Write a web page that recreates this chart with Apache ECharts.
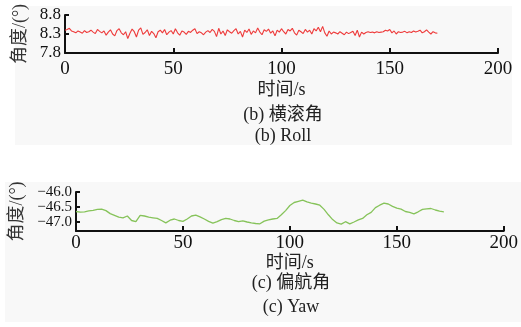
<!DOCTYPE html>
<html lang="en">
<head>
    <meta charset="UTF-8">
    <title>横滚角 / 偏航角</title>
    <script src="https://cdn.jsdelivr.net/npm/echarts@6/dist/echarts.min.js"></script>
</head>
<style>
    html, body { margin: 0; padding: 0; background: #fff; }
    #main { width: 521px; height: 327px; }
</style>
<body>
<div id="main"></div>
</body>
<script>
    // 横滚角 数据，每秒一个点
    var rollValues = [
        8.40, 8.42, 8.45, 8.38, 8.36, 8.33, 8.38, 8.35, 8.32, 8.39,
        8.34, 8.36, 8.40, 8.35, 8.31, 8.42, 8.37, 8.33, 8.38, 8.27,
        8.35, 8.41, 8.30, 8.25, 8.39, 8.44, 8.33, 8.28, 8.36, 8.18,
        8.32, 8.43, 8.36, 8.22, 8.40, 8.46, 8.29, 8.34, 8.41, 8.26,
        8.37, 8.31, 8.20, 8.36, 8.40, 8.33, 8.42, 8.28, 8.35, 8.39,
        8.30, 8.44, 8.33, 8.27, 8.38, 8.35, 8.29, 8.37, 8.34, 8.40,
        8.44, 8.31, 8.36, 8.33, 8.28, 8.35, 8.39, 8.34, 8.42, 8.37,
        8.23, 8.45, 8.30, 8.38, 8.26, 8.41, 8.36, 8.32, 8.39, 8.44,
        8.30, 8.37, 8.22, 8.40, 8.34, 8.43, 8.29, 8.38, 8.33, 8.46,
        8.35, 8.28, 8.41, 8.37, 8.43, 8.32, 8.38, 8.25, 8.40, 8.35,
        8.44, 8.36, 8.30, 8.42, 8.38, 8.45, 8.33, 8.27, 8.40, 8.36,
        8.31, 8.42, 8.35, 8.40, 8.30, 8.44, 8.38, 8.48, 8.36, 8.50,
        8.33, 8.24, 8.38, 8.30, 8.35, 8.33, 8.30, 8.36, 8.32, 8.28,
        8.35, 8.31, 8.34, 8.37, 8.26, 8.40, 8.22, 8.35, 8.30, 8.34,
        8.36, 8.34, 8.35, 8.33, 8.36, 8.34, 8.35, 8.36, 8.40, 8.38,
        8.42, 8.33, 8.38, 8.30, 8.36, 8.34, 8.35, 8.37, 8.33, 8.36,
        8.34, 8.38, 8.35, 8.37, 8.40, 8.33, 8.36, 8.41, 8.35, 8.30,
        8.36, 8.33, 8.32
    ];
    var rollStep = 1;

    // 偏航角 数据，每2秒一个点
    var yawValues = [
        -46.65, -46.67, -46.66, -46.63, -46.61, -46.58, -46.57, -46.62, -46.72, -46.78,
        -46.84, -46.86, -46.80, -46.95, -46.99, -46.78, -46.80, -46.84, -46.86, -46.88,
        -46.95, -47.03, -46.94, -46.90, -46.95, -46.98, -46.90, -46.80, -46.77, -46.83,
        -46.90, -46.98, -47.04, -46.99, -46.92, -46.88, -46.90, -46.95, -46.99, -46.96,
        -47.00, -47.03, -47.05, -47.06, -46.97, -46.93, -46.90, -46.88, -46.76, -46.62,
        -46.45, -46.35, -46.31, -46.27, -46.33, -46.37, -46.40, -46.44, -46.58, -46.76,
        -46.92, -47.03, -47.07, -46.99, -47.06, -47.00, -46.93, -46.88, -46.76, -46.68,
        -46.52, -46.44, -46.37, -46.40, -46.48, -46.54, -46.57, -46.65, -46.68, -46.73,
        -46.66, -46.58, -46.56, -46.55, -46.60, -46.64, -46.66
    ];
    var yawStep = 2;

    var xTicks = [0, 50, 100, 150, 200];
    var rollTicks = [7.8, 8.3, 8.8];
    var yawTicks = [-47.0, -46.5, -46.0];

    var captions = ['(b) 横滚角', '(b) Roll', '(c) 偏航角', '(c) Yaw'];

    function toPairs(vals, step) {
        var out = [];
        for (var i = 0; i < vals.length; i++) {
            out[out.length] = [i * step, vals[i]];
        }
        return out;
    }

    var serif = '"Liberation Serif", "Noto Sans CJK SC", serif';
    var axisColor = '#111';

    function xAxisOf(idx, gap, nameGap) {
        return {
            type: 'value', gridIndex: idx, min: 0, max: 200, interval: 50,
            name: '时间/s', nameLocation: 'middle', nameGap: nameGap,
            nameTextStyle: { fontFamily: serif, fontSize: 18, color: '#222' },
            axisLine: { show: true, onZero: false, lineStyle: { color: axisColor, width: 2 } },
            axisTick: { show: true, inside: true, length: 5, lineStyle: { color: axisColor, width: 2 } },
            axisLabel: { fontFamily: serif, fontSize: 19, color: '#111', margin: gap, showMaxLabel: true },
            splitLine: { show: false }
        };
    }

    function yAxisOf(idx, min, max, ticks, nameGap, labelSize) {
        return {
            type: 'value', gridIndex: idx, min: min, max: max,
            name: '角度/(°)', nameLocation: 'middle', nameGap: nameGap,
            nameTextStyle: { fontFamily: serif, fontSize: 18, color: '#333' },
            axisLine: { show: true, onZero: false, lineStyle: { color: axisColor, width: 2 } },
            axisTick: { show: true, inside: true, length: 4, customValues: ticks, lineStyle: { color: axisColor, width: 2 } },
            axisLabel: {
                fontFamily: serif, fontSize: labelSize, color: '#111', margin: 4, customValues: ticks,
                formatter: function (v) { return v.toFixed(1).replace('-', '\u2212'); }
            },
            splitLine: { show: false }
        };
    }

    var graphics = [
        { type: 'rect', shape: { x: 15, y: 6, width: 497, height: 139 }, style: { fill: '#f8f8f8' }, z: -10, silent: true },
        { type: 'rect', shape: { x: 5, y: 182, width: 516, height: 140 }, style: { fill: '#f8f8f8' }, z: -10, silent: true }
    ];
    var capPos = [[283, 115], [283, 136], [291, 283], [291, 307]];
    for (var c = 0; c < captions.length; c++) {
        graphics[graphics.length] = {
            type: 'text', x: capPos[c][0], y: capPos[c][1], silent: true,
            style: { text: captions[c], font: '18px ' + serif, fill: '#222', align: 'center', verticalAlign: 'middle' }
        };
    }

    var myChart = echarts.init(document.getElementById('main'));
    var option = {
        animation: false,
        backgroundColor: '#fff',
        grid: [
            { left: 65, right: 23, top: 15, height: 38 },
            { left: 74, right: 13, top: 192, height: 39 }
        ],
        xAxis: [xAxisOf(0, 7, 28), xAxisOf(1, 3, 19)],
        yAxis: [yAxisOf(0, 7.8, 8.8, rollTicks, 34, 17), yAxisOf(1, -47.3, -46.0, yawTicks, 50, 15)],
        graphic: graphics,
        series: [
            {
                name: '横滚角', type: 'line', xAxisIndex: 0, yAxisIndex: 0,
                data: toPairs(rollValues, rollStep), showSymbol: false,
                lineStyle: { color: '#ee3b3b', width: 1.1 }
            },
            {
                name: '偏航角', type: 'line', xAxisIndex: 1, yAxisIndex: 1,
                data: toPairs(yawValues, yawStep), showSymbol: false,
                lineStyle: { color: '#86c35a', width: 1.3 }
            }
        ]
    };
    myChart.setOption(option);
</script>
</html>
